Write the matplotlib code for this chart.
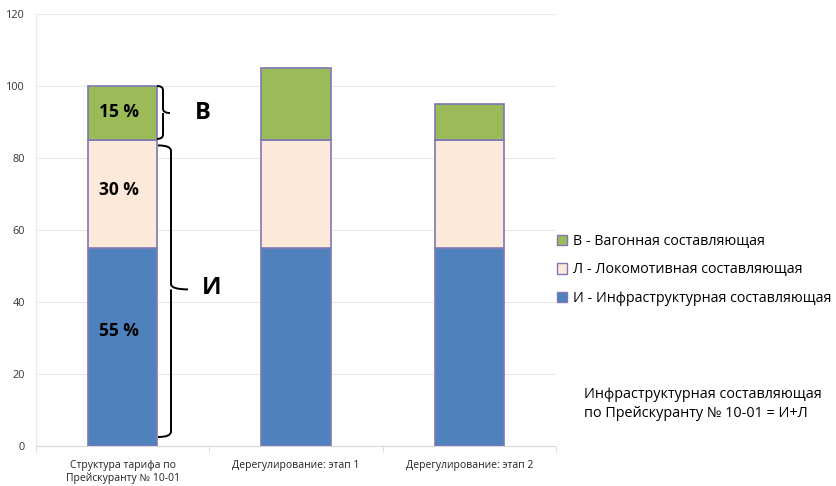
import matplotlib
matplotlib.use("Agg")
import matplotlib.pyplot as plt
from matplotlib.path import Path
from matplotlib.patches import PathPatch, Patch
import numpy as np

plt.rcParams['font.family'] = ['Open Sans', 'DejaVu Sans']

categories = ["Структура тарифа по\nПрейскуранту № 10-01", "Дерегулирование: этап 1", "Дерегулирование: этап 2"]
infra = [55, 55, 55]
loco = [30, 30, 30]
wagon = [15, 20, 10]
series_names = ["И - Инфраструктурная составляющая", "Л - Локомотивная составляющая", "В - Вагонная составляющая"]
pct_labels = ["55 %", "30 %", "15 %"]
yticks = [0, 20, 40, 60, 80, 100, 120]

c_infra = "#4f81bd"
c_loco = "#fde9d9"
c_wagon = "#9bbb59"
edge = "#7e78b4"

fig = plt.figure(figsize=(8.36, 4.86), dpi=100)
ax = fig.add_axes([36/836, 40/486, 520/836, 432/486])

x = np.arange(len(categories))
w = 0.4
ax.bar(x, infra, w, color=c_infra, edgecolor=edge, linewidth=1.2, zorder=3)
ax.bar(x, loco, w, bottom=infra, color=c_loco, edgecolor=edge, linewidth=1.2, zorder=3)
bot2 = np.array(infra) + np.array(loco)
ax.bar(x, wagon, w, bottom=bot2, color=c_wagon, edgecolor=edge, linewidth=1.2, zorder=3)

ax.set_xlim(-0.5, 2.5)
ax.set_ylim(0, 120)
ax.set_yticks(yticks)
ax.tick_params(axis='y', length=0, labelsize=7.8, pad=8, colors="#333333")
ax.set_xticks(x)
ax.set_xticklabels(categories, fontsize=7.5, color="#222222")
ax.tick_params(axis='x', length=0, pad=10)
ax.set_xticks([-0.5, 0.5, 1.5, 2.5], minor=True)
ax.tick_params(axis='x', which='minor', length=4, color="#d9d9d9")
ax.grid(axis='y', color="#e8e8e8", linewidth=0.8, zorder=0)
for s in ['top', 'right']:
    ax.spines[s].set_visible(False)
ax.spines['left'].set_color("#e8e8e8")
ax.spines['bottom'].set_color("#d9d9d9")

# percent labels on first bar
mids = [infra[0] / 2 + 4.5, infra[0] + loco[0] / 2 + 1.0, bot2[0] + wagon[0] / 2 + 0.3]
for lab, ym in zip(pct_labels, mids):
    ax.text(x[0] - 0.02, ym, lab, ha='center', va='center', fontsize=12.5, fontweight='bold', color='black', zorder=5)

def brace(ax, x0, xv, xt, ybot, ytop, ytip, r=1.5):
    verts = [
        (x0, ytop), (xv, ytop), (xv, ytop - r),
        (xv, ytip + r), (xv, ytip), (xt, ytip),
        (xv, ytip), (xv, ytip - r),
        (xv, ybot + r), (xv, ybot), (x0, ybot),
    ]
    codes = [Path.MOVETO, Path.CURVE3, Path.CURVE3,
             Path.LINETO, Path.CURVE3, Path.CURVE3,
             Path.MOVETO, Path.LINETO,
             Path.LINETO, Path.CURVE3, Path.CURVE3]
    ax.add_patch(PathPatch(Path(verts, codes), fill=False, lw=1.4, ec='black', zorder=6, clip_on=False))

def px2x(px):
    return (px - 36) / (520 / 3) - 0.5

brace(ax, px2x(157), px2x(163), px2x(170), 85.3, 100, 92.5, r=1.2)
brace(ax, px2x(158), px2x(171), px2x(188), 2.5, 83.5, 43.5, r=1.5)
ax.text(px2x(203), 92.5, "В", fontsize=17, fontweight='bold', ha='center', va='center')
ax.text(px2x(212), 43.8, "И", fontsize=17, fontweight='bold', ha='center', va='center')

handles = [Patch(facecolor=c, edgecolor=edge, linewidth=1.0) for c in (c_wagon, c_loco, c_infra)]
labels = [series_names[2], series_names[1], series_names[0]]
fig.legend(handles, labels, loc='center left', bbox_to_anchor=(551/836, 1 - 270/486),
           frameon=False, fontsize=10.3, handlelength=0.75, handleheight=0.75, handletextpad=0.4,
           labelspacing=0.95, borderaxespad=0)

fig.text(584/836, 1 - 404/486, "Инфраструктурная составляющая\nпо Прейскуранту № 10-01 = И+Л",
         fontsize=10.4, ha='left', va='center', linespacing=1.3)

fig.savefig("out.png", dpi=100)
